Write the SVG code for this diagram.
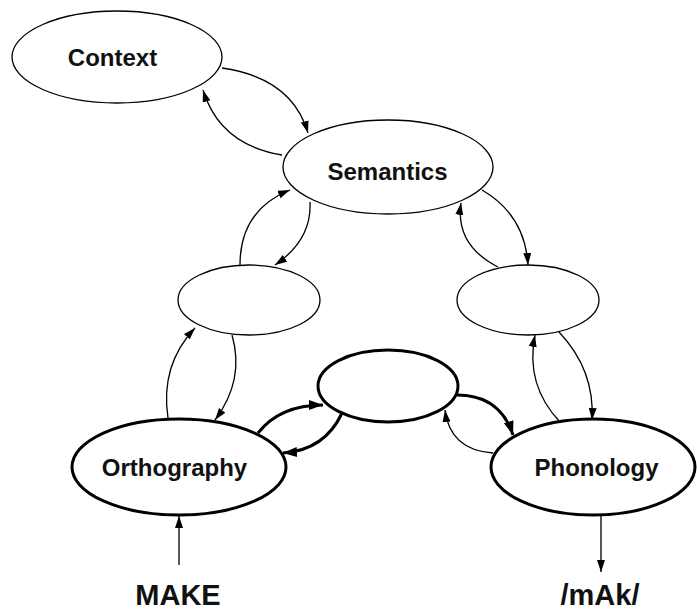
<svg xmlns="http://www.w3.org/2000/svg" width="697" height="610" viewBox="0 0 697 610">
<style>
.n{fill:#fff;stroke:#000;stroke-width:1.3}
.nt{fill:#fff;stroke:#000;stroke-width:3}
.lbl{font-family:"Liberation Sans",Arial,sans-serif;font-weight:bold;font-size:24px;text-anchor:middle;fill:#111}
.big{font-family:"Liberation Sans",Arial,sans-serif;font-weight:bold;font-size:29px;text-anchor:middle;fill:#111}
.c{fill:none;stroke:#000;stroke-width:1.3;marker-end:url(#a)}
.ct{fill:none;stroke:#000;stroke-width:3;marker-end:url(#at)}
</style>
<defs>
<marker id="a" markerUnits="userSpaceOnUse" markerWidth="14" markerHeight="10" refX="12" refY="4" orient="auto"><path d="M0,0 L12,4 L0,8 Z" fill="#000"/></marker>
<marker id="at" markerUnits="userSpaceOnUse" markerWidth="16" markerHeight="12" refX="14" refY="5" orient="auto"><path d="M0,0 L14,5 L0,10 Z" fill="#000"/></marker>
</defs>
<rect width="697" height="610" fill="#fff"/>
<g id="connectors">
<path class="c" d="M222,68 Q292,78 308,133"/>
<path class="c" d="M282,155 Q220,145 203,90"/>
<path class="c" d="M310,202 Q312,240 275,265"/>
<path class="c" d="M240,265 Q240,210 290,190"/>
<path class="c" d="M482,190 Q525,215 528,265"/>
<path class="c" d="M498,267 Q455,245 461,203"/>
<path class="c" d="M232,335 Q245,380 215,420"/>
<path class="c" d="M168,418 Q160,365 195,328"/>
<path class="c" d="M559,332 Q595,370 592,420"/>
<path class="c" d="M560,422 Q525,385 535,335"/>
<path class="ct" d="M258,433 Q280,405 323,405"/>
<path class="ct" d="M342,413 Q325,450 283,453"/>
<path class="ct" d="M457,395 Q500,395 513,435"/>
<path class="c" d="M493,453 Q450,450 445,410"/>
<path class="c" d="M179,565 L179,516"/>
<path class="c" d="M601,516 L601,572"/>
</g>
<g id="context"><ellipse class="n" cx="117" cy="57" rx="105" ry="46"/><text class="lbl" x="112.5" y="66">Context</text></g>
<g id="semantics"><ellipse class="n" cx="388" cy="167" rx="105" ry="47"/><text class="lbl" x="387.5" y="180">Semantics</text></g>
<g id="hidden-left"><ellipse class="n" cx="249" cy="300" rx="71" ry="35"/></g>
<g id="hidden-right"><ellipse class="n" cx="528" cy="300" rx="71" ry="35"/></g>
<g id="hidden-center"><ellipse class="nt" cx="388" cy="386" rx="70" ry="36"/></g>
<g id="orthography"><ellipse class="nt" cx="179" cy="467" rx="107" ry="48"/><text class="lbl" x="174.5" y="476">Orthography</text></g>
<g id="phonology"><ellipse class="nt" cx="593" cy="467" rx="102" ry="48"/><text class="lbl" x="596.5" y="476">Phonology</text></g>
<g id="input"><text class="big" x="178" y="605">MAKE</text></g>
<g id="output"><text class="big" x="600" y="605">/mAk/</text></g>
</svg>
